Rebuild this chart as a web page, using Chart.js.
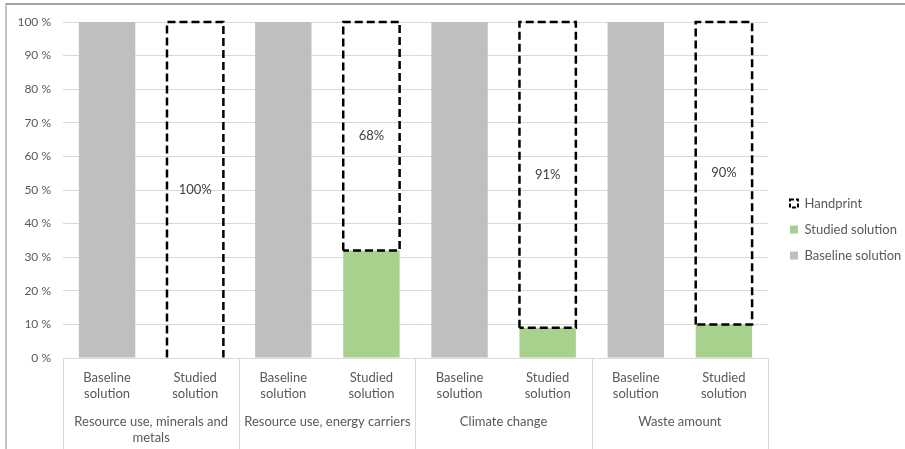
<!DOCTYPE html>
<html>
<head>
<meta charset="utf-8">
<script src="https://cdn.jsdelivr.net/npm/chart.js@4.4.0/dist/chart.umd.min.js"></script>
<style>
  html, body { margin: 0; padding: 0; background: #fff; }
  #wrap { position: relative; width: 905px; height: 449px; }
  #frame { position: absolute; left: 5px; top: 3px; right: 0; bottom: 0; border-top: 2px solid #a3a3a3; border-left: 2px solid #c4c4c4; pointer-events: none; }
  canvas { position: absolute; left: 0; top: 0; }
</style>
</head>
<body>
<div id="wrap">
  <canvas id="grafico" width="905" height="449"></canvas>
  <div id="frame"></div>
</div>
<script>
// dados
const grupos = [
  ['Resource use, minerals and', 'metals'],
  ['Resource use, energy carriers'],
  ['Climate change'],
  ['Waste amount']
];
const subRotulos = [['Baseline', 'solution'], ['Studied', 'solution']];
const categorias = grupos.flatMap(() => subRotulos);
const baseline = [100, 0, 100, 0, 100, 0, 100, 0];
const studied = [0, 0, 0, 32, 0, 9, 0, 10];
const handprint = [0, 100, 0, 68, 0, 91, 0, 90];
const yTicks = [0, 10, 20, 30, 40, 50, 60, 70, 80, 90, 100];

const FONTE = 'Lato, "Open Sans", sans-serif';
const CINZA_TXT = '#595959';

// contorno tracejado do handprint + rótulos
const pluginHandprint = {
  id: 'handprint',
  afterDatasetsDraw(chart) {
    const ctx = chart.ctx;
    const meta = chart.getDatasetMeta(2);
    const area = chart.chartArea;
    ctx.save();
    meta.data.forEach((el, i) => {
      const v = handprint[i];
      if (!v) return;
      const { x, y, base, width } = el.getProps(['x', 'y', 'base', 'width'], true);
      const l = x - width / 2, r = x + width / 2;
      ctx.setLineDash([8, 4]);
      ctx.lineWidth = 2.5;
      ctx.strokeStyle = '#000';
      ctx.beginPath();
      ctx.moveTo(l, base);
      ctx.lineTo(l, y);
      ctx.lineTo(r, y);
      ctx.lineTo(r, base);
      if (base < area.bottom - 1) ctx.lineTo(l, base);
      ctx.stroke();
      ctx.setLineDash([]);
      ctx.fillStyle = '#404040';
      ctx.font = '13px ' + FONTE;
      ctx.textAlign = 'center';
      ctx.textBaseline = 'middle';
      ctx.fillText(v + '%', x, (y + base) / 2);
    });
    ctx.restore();
  }
};

// eixo x em dois níveis: separadores e nomes dos grupos
const pluginGrupos = {
  id: 'grupos',
  afterDraw(chart) {
    const ctx = chart.ctx;
    const x = chart.scales.x;
    const slot = x.getPixelForValue(1) - x.getPixelForValue(0);
    const topo = chart.chartArea.bottom;
    ctx.save();
    ctx.strokeStyle = '#d9d9d9';
    ctx.lineWidth = 1;
    for (let g = 0; g <= grupos.length; g++) {
      const px = Math.round(x.getPixelForValue(g * 2) - slot / 2) + 0.5;
      ctx.beginPath();
      ctx.moveTo(px, topo);
      ctx.lineTo(px, chart.height);
      ctx.stroke();
    }
    ctx.fillStyle = CINZA_TXT;
    ctx.font = '13px ' + FONTE;
    ctx.textAlign = 'center';
    ctx.textBaseline = 'middle';
    grupos.forEach((linhas, g) => {
      const cx = (x.getPixelForValue(g * 2) + x.getPixelForValue(g * 2 + 1)) / 2;
      linhas.forEach((t, k) => ctx.fillText(t, cx, topo + 64 + k * 16));
    });
    ctx.restore();
  }
};

// ajusta a posição da legenda, como no original
const pluginLegenda = {
  id: 'legendaOffset',
  afterLayout(chart) {
    if (!chart.legend) return;
    chart.legend.left += 9;
    chart.legend.right += 9;
    chart.legend.top -= 6;
    chart.legend.bottom -= 6;
  }
};

new Chart(document.getElementById('grafico'), {
  type: 'bar',
  data: {
    labels: categorias,
    datasets: [
      { label: 'Baseline solution', data: baseline, backgroundColor: '#bfbfbf' },
      { label: 'Studied solution', data: studied, backgroundColor: '#a9d18e' },
      { label: 'Handprint', data: handprint, backgroundColor: 'rgba(0,0,0,0)', borderWidth: 0 }
    ]
  },
  options: {
    responsive: false,
    animation: false,
    layout: { padding: { top: 22, right: 2.7, left: 0, bottom: 0 } },
    datasets: { bar: { categoryPercentage: 1, barPercentage: 0.64 } },
    plugins: {
      tooltip: { enabled: false },
      legend: {
        position: 'right',
        reverse: true,
        labels: {
          color: CINZA_TXT,
          font: { family: FONTE, size: 13 },
          boxWidth: 8,
          boxHeight: 8,
          padding: 13,
          generateLabels(chart) {
            const itens = Chart.defaults.plugins.legend.labels.generateLabels(chart);
            itens.forEach(it => {
              if (it.datasetIndex === 2) {
                it.fillStyle = 'rgba(0,0,0,0)';
                it.strokeStyle = '#000';
                it.lineWidth = 2;
                it.lineDash = [4, 2];
              } else {
                it.lineWidth = 0;
              }
            });
            return itens;
          }
        }
      }
    },
    scales: {
      x: {
        stacked: true,
        grid: { display: false },
        border: { display: true, color: '#d9d9d9' },
        ticks: {
          color: CINZA_TXT,
          font: { family: FONTE, size: 13, lineHeight: 1.23 },
          padding: 4,
          maxRotation: 0,
          autoSkip: false
        },
        afterFit(scale) { scale.height = 91; }
      },
      y: {
        stacked: true,
        min: 0,
        max: 100,
        afterBuildTicks(scale) { scale.ticks = yTicks.map(v => ({ value: v })); },
        grid: { color: '#d9d9d9', drawTicks: false },
        border: { display: false },
        ticks: {
          color: CINZA_TXT,
          font: { family: FONTE, size: 12 },
          padding: 12,
          callback: v => v + ' %'
        },
        afterFit(scale) { scale.width = 63; }
      }
    }
  },
  plugins: [pluginHandprint, pluginGrupos, pluginLegenda]
});
</script>
</body>
</html>
